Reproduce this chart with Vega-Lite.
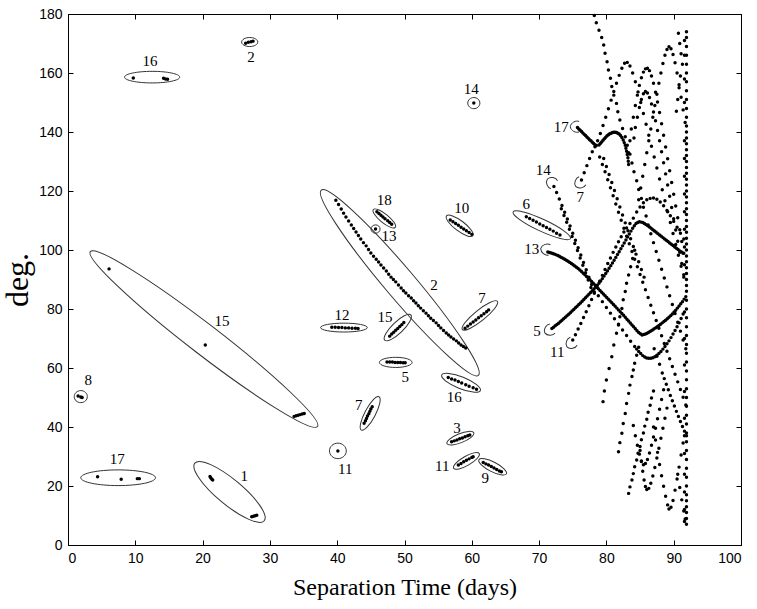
{
"$schema": "https://vega.github.io/schema/vega-lite/v6.json",
"width": 673, "height": 531,
"autosize": {"type": "none"},
"padding": {"left": 68, "top": 14, "right": 16, "bottom": 64},
"background": "white",
"config": {"view": {"stroke": "black", "strokeWidth": 1}, "axis": {"grid": false, "domainColor": "black", "tickColor": "black", "labelColor": "black", "titleColor": "black"}},
"datasets": {
"ell": [
{"x":12.5,"y":158.6,"len":8.2,"s":"e21","ang":0},
{"x":27.0,"y":170.5,"len":2.4,"s":"e56","ang":0},
{"x":60.3,"y":149.8,"len":1.8,"s":"e92","ang":0},
{"x":20.2,"y":69.8,"len":42.6,"s":"e10","ang":37.6},
{"x":1.9,"y":50.3,"len":1.95,"s":"e92","ang":0},
{"x":7.45,"y":22.8,"len":11.1,"s":"e21","ang":0},
{"x":24.0,"y":18.0,"len":13.4,"s":"e28","ang":39.7},
{"x":40.1,"y":31.9,"len":2.5,"s":"e92","ang":0},
{"x":44.9,"y":44.6,"len":5.6,"s":"e28","ang":-62},
{"x":41.0,"y":73.7,"len":6.94,"s":"e19","ang":0},
{"x":49.0,"y":73.7,"len":5.4,"s":"e31","ang":-44},
{"x":48.7,"y":61.9,"len":4.86,"s":"e31","ang":0},
{"x":49.3,"y":88.9,"len":36.1,"s":"e12","ang":49.7},
{"x":47.0,"y":110.7,"len":4.2,"s":"e31","ang":39},
{"x":45.7,"y":107.1,"len":1.35,"s":"e92","ang":0},
{"x":58.2,"y":108.2,"len":4.9,"s":"e31","ang":37},
{"x":61.2,"y":77.8,"len":6.7,"s":"e24","ang":-39},
{"x":58.4,"y":55.0,"len":6.2,"s":"e28","ang":22},
{"x":58.3,"y":36.2,"len":4.3,"s":"e31","ang":-22},
{"x":59.2,"y":28.5,"len":4.4,"s":"e31","ang":-30},
{"x":63.1,"y":26.5,"len":4.6,"s":"e31","ang":27},
{"x":70.4,"y":108.4,"len":9.4,"s":"e19","ang":25}
],
"arcs": [
{"x":75.5,"y":141.8,"a":0},
{"x":71.9,"y":122.8,"a":40},
{"x":76.1,"y":122.8,"a":-40},
{"x":71.1,"y":100.2,"a":10},
{"x":71.6,"y":72.9,"a":-30},
{"x":74.8,"y":68.4,"a":-40}
],
"lab": [
{"x":12.2,"y":164.1,"t":"16"},{"x":27.2,"y":165.4,"t":"2"},{"x":59.9,"y":154.6,"t":"14"},{"x":22.9,"y":75.9,"t":"15"},
{"x":3.0,"y":55.9,"t":"8"},{"x":7.3,"y":29.2,"t":"17"},{"x":26.2,"y":23.4,"t":"1"},{"x":41.2,"y":25.8,"t":"11"},
{"x":43.2,"y":47.5,"t":"7"},{"x":40.7,"y":78.0,"t":"12"},{"x":47.1,"y":77.3,"t":"15"},{"x":50.1,"y":56.9,"t":"5"},
{"x":54.4,"y":88.1,"t":"2"},{"x":47.0,"y":116.9,"t":"18"},{"x":47.7,"y":104.7,"t":"13"},{"x":58.5,"y":114.2,"t":"10"},
{"x":61.5,"y":83.7,"t":"7"},{"x":57.4,"y":50.2,"t":"16"},{"x":57.8,"y":39.7,"t":"3"},{"x":55.6,"y":26.8,"t":"11"},
{"x":62.0,"y":22.7,"t":"9"},{"x":68.1,"y":115.6,"t":"6"},{"x":73.3,"y":141.7,"t":"17"},{"x":70.6,"y":127.1,"t":"14"},
{"x":76.1,"y":118.0,"t":"7"},{"x":68.9,"y":100.3,"t":"13"},{"x":69.7,"y":72.5,"t":"5"},{"x":72.7,"y":65.4,"t":"11"}
],
"pts": [
{"x":9.7,"y":158.3},{"x":14.2,"y":158.2},{"x":14.5,"y":158.0},{"x":14.8,"y":157.9},
{"x":26.4,"y":170.1},{"x":26.8,"y":170.4},{"x":27.2,"y":170.6},{"x":27.5,"y":170.8},
{"x":60.3,"y":149.8},
{"x":6.1,"y":93.6},{"x":20.4,"y":67.8},{"x":33.6,"y":43.6},{"x":33.9,"y":43.8},{"x":34.2,"y":44.0},{"x":34.5,"y":44.2},{"x":34.8,"y":44.4},{"x":35.1,"y":44.6},
{"x":1.5,"y":50.5},{"x":1.9,"y":50.2},{"x":2.1,"y":50.0},
{"x":4.4,"y":23.1},{"x":7.9,"y":22.3},{"x":10.3,"y":22.5},{"x":10.6,"y":22.5},
{"x":21.1,"y":23.2},{"x":21.2,"y":22.8},{"x":21.35,"y":22.4},{"x":21.5,"y":22.0},{"x":27.3,"y":9.6},{"x":27.55,"y":9.75},{"x":27.8,"y":9.9},{"x":28.05,"y":10.05},
{"x":40.1,"y":31.9},
{"x":45.2,"y":46.9},{"x":45.0,"y":46.1},{"x":44.85,"y":45.3},{"x":44.7,"y":44.5},{"x":44.5,"y":43.7},{"x":44.35,"y":42.9},{"x":44.2,"y":42.1},{"x":44.0,"y":41.3},
{"x":39.2,"y":73.8},{"x":39.7,"y":73.8},{"x":40.2,"y":73.7},{"x":40.7,"y":73.7},{"x":41.2,"y":73.6},{"x":41.7,"y":73.6},{"x":42.2,"y":73.5},{"x":42.7,"y":73.5},{"x":43.1,"y":73.4},
{"x":49.9,"y":75.4},{"x":49.6,"y":74.7},{"x":49.3,"y":74.1},{"x":49.0,"y":73.4},{"x":48.7,"y":72.8},{"x":48.4,"y":72.1},{"x":48.1,"y":71.5},{"x":47.8,"y":70.8},
{"x":47.4,"y":62.0},{"x":47.8,"y":62.0},{"x":48.2,"y":62.0},{"x":48.6,"y":61.9},{"x":49.0,"y":61.9},{"x":49.4,"y":61.9},{"x":49.8,"y":61.8},{"x":50.1,"y":61.8},
{"x":39.8,"y":116.9},{"x":40.2,"y":115.4},{"x":40.6,"y":113.9},{"x":40.95,"y":112.5},{"x":41.3,"y":111.2},{"x":41.7,"y":109.8},{"x":42.1,"y":108.5},{"x":42.45,"y":107.3},{"x":42.8,"y":106.1},{"x":43.15,"y":104.9},{"x":43.5,"y":103.7},{"x":43.9,"y":102.5},{"x":44.3,"y":101.4},{"x":44.65,"y":100.2},{"x":45.0,"y":99.0},{"x":45.4,"y":97.9},{"x":45.8,"y":96.9},{"x":46.15,"y":95.9},{"x":46.5,"y":94.9},{"x":46.9,"y":93.9},{"x":47.3,"y":92.9},{"x":47.65,"y":91.8},{"x":48.0,"y":90.8},{"x":48.35,"y":90.0},{"x":48.7,"y":89.2},{"x":49.1,"y":88.1},{"x":49.5,"y":87.1},{"x":49.85,"y":86.2},{"x":50.2,"y":85.4},{"x":50.6,"y":84.5},{"x":51.0,"y":83.7},{"x":51.35,"y":82.8},{"x":51.7,"y":82.0},{"x":52.05,"y":81.1},{"x":52.4,"y":80.3},{"x":52.8,"y":79.4},{"x":53.2,"y":78.6},{"x":53.55,"y":77.7},{"x":53.9,"y":76.9},{"x":54.3,"y":76.1},{"x":54.7,"y":75.3},{"x":55.05,"y":74.4},{"x":55.4,"y":73.6},{"x":55.8,"y":72.7},{"x":56.2,"y":71.9},{"x":56.55,"y":71.2},{"x":56.9,"y":70.5},{"x":57.3,"y":69.8},{"x":57.7,"y":69.2},{"x":58.05,"y":68.5},{"x":58.4,"y":67.8},{"x":58.75,"y":67.3},{"x":59.1,"y":66.8},
{"x":45.9,"y":113.0},{"x":46.2,"y":112.4},{"x":46.5,"y":111.8},{"x":46.8,"y":111.2},{"x":47.1,"y":110.6},{"x":47.5,"y":109.9},{"x":47.8,"y":109.3},{"x":48.1,"y":108.7},
{"x":45.7,"y":107.1},
{"x":56.8,"y":110.2},{"x":57.2,"y":109.6},{"x":57.6,"y":109.0},{"x":58.0,"y":108.4},{"x":58.4,"y":107.7},{"x":58.8,"y":107.1},{"x":59.2,"y":106.5},{"x":59.6,"y":105.9},{"x":60.0,"y":105.3},
{"x":59.0,"y":73.5},{"x":59.4,"y":74.2},{"x":59.8,"y":74.9},{"x":60.2,"y":75.6},{"x":60.6,"y":76.3},{"x":61.0,"y":77.0},{"x":61.4,"y":77.7},{"x":61.8,"y":78.4},{"x":62.2,"y":79.1},{"x":62.5,"y":79.7},
{"x":56.5,"y":56.8},{"x":57.0,"y":56.3},{"x":57.5,"y":55.9},{"x":58.0,"y":55.4},{"x":58.5,"y":54.9},{"x":59.1,"y":54.3},{"x":59.6,"y":53.8},{"x":60.2,"y":53.3},{"x":60.7,"y":52.8},
{"x":57.0,"y":35.0},{"x":57.4,"y":35.3},{"x":57.8,"y":35.6},{"x":58.2,"y":36.0},{"x":58.6,"y":36.3},{"x":59.0,"y":36.7},{"x":59.4,"y":37.0},{"x":59.7,"y":37.3},
{"x":58.0,"y":27.1},{"x":58.4,"y":27.6},{"x":58.8,"y":28.2},{"x":59.2,"y":28.7},{"x":59.6,"y":29.2},{"x":60.0,"y":29.7},{"x":60.2,"y":29.9},
{"x":61.7,"y":28.0},{"x":62.1,"y":27.5},{"x":62.5,"y":27.1},{"x":62.9,"y":26.6},{"x":63.3,"y":26.1},{"x":63.7,"y":25.6},{"x":64.1,"y":25.1},{"x":64.4,"y":24.8},
{"x":68.1,"y":111.3},{"x":68.6,"y":110.7},{"x":69.1,"y":110.1},{"x":69.6,"y":109.5},{"x":70.1,"y":108.8},{"x":70.6,"y":108.2},{"x":71.1,"y":107.6},{"x":71.6,"y":107.0},{"x":72.1,"y":106.4},{"x":72.6,"y":105.7},{"x":73.1,"y":105.1},
{"x":71.3,"y":99.3},{"x":71.8,"y":99.0},{"x":72.3,"y":98.6},{"x":72.8,"y":98.1},{"x":73.3,"y":97.5},{"x":73.8,"y":96.9},{"x":74.3,"y":96.2},{"x":74.8,"y":95.4},{"x":75.3,"y":94.6},{"x":75.8,"y":93.7},{"x":76.3,"y":92.7},{"x":76.8,"y":91.6},{"x":77.3,"y":90.5},{"x":77.8,"y":89.3},{"x":78.3,"y":88.1},{"x":78.8,"y":86.9},{"x":79.3,"y":85.7},{"x":79.8,"y":84.5},{"x":80.3,"y":83.3},{"x":80.8,"y":82.1},{"x":81.3,"y":80.9},{"x":81.8,"y":79.7},{"x":82.3,"y":78.5},{"x":82.8,"y":77.2},{"x":83.3,"y":75.9},{"x":83.8,"y":74.6},{"x":84.3,"y":73.3},{"x":84.8,"y":72.0},{"x":85.3,"y":71.2},{"x":85.8,"y":71.5},{"x":86.3,"y":72.1},{"x":86.8,"y":72.8},{"x":87.3,"y":73.6},{"x":87.8,"y":74.4},{"x":88.3,"y":75.3},{"x":88.8,"y":76.2},{"x":89.3,"y":77.2},{"x":89.8,"y":78.3},{"x":90.3,"y":79.6},{"x":90.8,"y":81.0},{"x":91.3,"y":82.5},{"x":91.8,"y":84.2},
{"x":71.55,"y":99.15},{"x":72.05,"y":98.8},{"x":72.55,"y":98.35},{"x":73.05,"y":97.8},{"x":73.55,"y":97.2},{"x":74.05,"y":96.55},{"x":74.55,"y":95.8},{"x":75.05,"y":95.0},{"x":75.55,"y":94.15},{"x":76.05,"y":93.2},{"x":76.55,"y":92.15},{"x":77.05,"y":91.05},{"x":77.55,"y":89.9},{"x":78.05,"y":88.7},{"x":78.55,"y":87.5},{"x":79.05,"y":86.3},{"x":79.55,"y":85.1},{"x":80.05,"y":83.9},{"x":80.55,"y":82.7},{"x":81.05,"y":81.5},{"x":81.55,"y":80.3},{"x":82.05,"y":79.1},{"x":82.55,"y":77.85},{"x":83.05,"y":76.55},{"x":83.55,"y":75.25},{"x":84.05,"y":73.95},{"x":84.55,"y":72.65},{"x":85.05,"y":71.6},{"x":85.55,"y":71.35},{"x":86.05,"y":71.8},{"x":86.55,"y":72.45},{"x":87.05,"y":73.2},{"x":87.55,"y":74.0},{"x":88.05,"y":74.85},{"x":88.55,"y":75.75},{"x":89.05,"y":76.7},{"x":89.55,"y":77.75},{"x":90.05,"y":78.95},{"x":90.55,"y":80.3},{"x":91.05,"y":81.75},{"x":91.55,"y":83.35},
{"x":71.9,"y":73.4},{"x":72.4,"y":74.3},{"x":72.9,"y":75.2},{"x":73.4,"y":76.2},{"x":73.9,"y":77.2},{"x":74.4,"y":78.2},{"x":74.9,"y":79.3},{"x":75.4,"y":80.4},{"x":75.9,"y":81.5},{"x":76.4,"y":82.6},{"x":76.9,"y":83.8},{"x":77.4,"y":85.0},{"x":77.9,"y":86.2},{"x":78.4,"y":87.4},{"x":78.9,"y":88.7},{"x":79.4,"y":90.3},{"x":79.9,"y":92.0},{"x":80.4,"y":93.8},{"x":80.9,"y":95.6},{"x":81.4,"y":97.5},{"x":81.9,"y":99.4},{"x":82.4,"y":101.4},{"x":82.9,"y":103.4},{"x":83.4,"y":105.4},{"x":83.9,"y":107.4},{"x":84.4,"y":109.0},{"x":84.9,"y":109.6},{"x":85.4,"y":109.3},{"x":85.9,"y":108.6},{"x":86.4,"y":107.8},{"x":86.9,"y":106.9},{"x":87.4,"y":106.0},{"x":87.9,"y":105.1},{"x":88.4,"y":104.2},{"x":88.9,"y":103.3},{"x":89.4,"y":102.4},{"x":89.9,"y":101.5},{"x":90.4,"y":100.6},{"x":90.9,"y":99.7},{"x":91.4,"y":98.9},
{"x":72.15,"y":73.85},{"x":72.65,"y":74.75},{"x":73.15,"y":75.7},{"x":73.65,"y":76.7},{"x":74.15,"y":77.7},{"x":74.65,"y":78.75},{"x":75.15,"y":79.85},{"x":75.65,"y":80.95},{"x":76.15,"y":82.05},{"x":76.65,"y":83.2},{"x":77.15,"y":84.4},{"x":77.65,"y":85.6},{"x":78.15,"y":86.8},{"x":78.65,"y":88.05},{"x":79.15,"y":89.5},{"x":79.65,"y":91.15},{"x":80.15,"y":92.9},{"x":80.65,"y":94.7},{"x":81.15,"y":96.55},{"x":81.65,"y":98.45},{"x":82.15,"y":100.4},{"x":82.65,"y":102.4},{"x":83.15,"y":104.4},{"x":83.65,"y":106.4},{"x":84.15,"y":108.2},{"x":84.65,"y":109.3},{"x":85.15,"y":109.45},{"x":85.65,"y":108.95},{"x":86.15,"y":108.2},{"x":86.65,"y":107.35},{"x":87.15,"y":106.45},{"x":87.65,"y":105.55},{"x":88.15,"y":104.65},{"x":88.65,"y":103.75},{"x":89.15,"y":102.85},{"x":89.65,"y":101.95},{"x":90.15,"y":101.05},{"x":90.65,"y":100.15},{"x":91.15,"y":99.3},
{"x":72.2,"y":121.5},{"x":72.6,"y":119.5},{"x":73.0,"y":117.3},{"x":73.4,"y":115.1},{"x":73.8,"y":112.8},{"x":74.2,"y":110.5},{"x":74.6,"y":108.1},{"x":75.0,"y":105.7},{"x":75.4,"y":103.3},{"x":75.8,"y":100.8},{"x":76.2,"y":98.3},{"x":76.6,"y":95.8},{"x":77.0,"y":93.3},{"x":77.4,"y":90.8},{"x":77.8,"y":88.3},{"x":78.2,"y":85.8},
{"x":73.3,"y":114.0},{"x":73.7,"y":111.7},{"x":74.1,"y":109.4},{"x":74.5,"y":107.0},{"x":74.9,"y":104.6},{"x":75.3,"y":102.2},{"x":75.7,"y":99.8},{"x":76.1,"y":97.3},{"x":76.5,"y":94.8},{"x":76.9,"y":92.3},{"x":77.3,"y":89.8},{"x":77.7,"y":87.3},
{"x":78.8,"y":84.5},{"x":79.4,"y":82.5},{"x":80.0,"y":80.5},{"x":80.6,"y":78.6},{"x":81.2,"y":76.7},{"x":81.8,"y":74.8},{"x":82.4,"y":72.9},{"x":83.0,"y":71.0},{"x":83.6,"y":69.1},{"x":84.2,"y":67.3},{"x":84.8,"y":65.6},{"x":85.4,"y":64.2},{"x":86.0,"y":63.4},{"x":86.6,"y":63.3},{"x":87.2,"y":63.8},{"x":87.8,"y":64.9},{"x":88.4,"y":66.4},{"x":89.0,"y":68.2},{"x":89.6,"y":70.3},{"x":90.2,"y":72.7},{"x":90.8,"y":75.3},{"x":91.4,"y":78.3},
{"x":84.5,"y":66.4},{"x":85.1,"y":64.9},{"x":85.7,"y":63.7},{"x":86.3,"y":63.3},{"x":86.9,"y":63.5},{"x":87.5,"y":64.3},{"x":88.1,"y":65.6},{"x":88.7,"y":67.3},{"x":89.3,"y":69.2},{"x":89.9,"y":71.5},{"x":90.5,"y":74.0},{"x":91.1,"y":76.8},
{"x":75.0,"y":69.5},{"x":75.4,"y":71.3},{"x":75.8,"y":73.2},{"x":76.2,"y":75.1},{"x":76.6,"y":77.1},{"x":77.0,"y":79.1},{"x":77.4,"y":81.1},{"x":77.8,"y":83.2},{"x":78.2,"y":85.3},{"x":78.6,"y":87.4},{"x":79.0,"y":89.4},{"x":79.4,"y":91.4},{"x":79.8,"y":93.4},{"x":80.2,"y":95.4},{"x":80.6,"y":97.3},{"x":81.0,"y":99.2},{"x":81.4,"y":101.0},{"x":81.8,"y":102.8},{"x":82.2,"y":104.5},{"x":82.6,"y":106.1},{"x":83.0,"y":107.5},{"x":83.5,"y":109.0},{"x":84.0,"y":110.8},{"x":84.5,"y":112.9},{"x":85.0,"y":114.6},{"x":85.5,"y":116.0},{"x":86.0,"y":117.0},{"x":86.5,"y":117.5},{"x":87.0,"y":117.6},{"x":87.5,"y":117.2},{"x":88.0,"y":116.3},{"x":88.5,"y":115.0},{"x":89.0,"y":113.4},{"x":89.5,"y":111.6},{"x":90.0,"y":109.7},{"x":90.5,"y":107.7},{"x":91.0,"y":105.7},{"x":91.5,"y":103.7},
{"x":75.7,"y":141.5},{"x":75.9,"y":141.0},{"x":76.1,"y":140.6},{"x":76.3,"y":140.2},{"x":76.5,"y":139.7},{"x":76.7,"y":139.2},{"x":76.9,"y":138.8},{"x":77.1,"y":138.3},{"x":77.3,"y":137.9},{"x":77.5,"y":137.4},{"x":77.7,"y":137.0},{"x":77.9,"y":136.5},{"x":78.1,"y":136.1},{"x":78.3,"y":135.7},{"x":78.5,"y":135.4},{"x":78.9,"y":135.6},{"x":79.1,"y":136.1},{"x":79.3,"y":136.6},{"x":79.5,"y":137.2},{"x":79.7,"y":137.7},{"x":79.9,"y":138.2},{"x":80.1,"y":138.7},{"x":80.3,"y":139.1},{"x":80.5,"y":139.4},{"x":80.7,"y":139.6},{"x":80.9,"y":139.8},{"x":81.1,"y":139.9},{"x":81.3,"y":139.9},{"x":81.5,"y":139.8},{"x":81.7,"y":139.6},{"x":81.9,"y":139.3},{"x":82.1,"y":138.8},{"x":82.3,"y":138.1},{"x":82.5,"y":137.3},{"x":82.65,"y":136.4},{"x":82.8,"y":135.5},{"x":82.9,"y":134.5},{"x":83.0,"y":133.5},{"x":83.1,"y":132.4},{"x":83.2,"y":131.3},{"x":83.25,"y":130.1},{"x":83.3,"y":129.0},
{"x":76.3,"y":123.7},{"x":76.7,"y":126.2},{"x":77.1,"y":128.6},{"x":77.5,"y":131.0},{"x":77.9,"y":133.3},{"x":78.3,"y":135.0},{"x":78.7,"y":137.0},{"x":79.1,"y":139.5},{"x":79.5,"y":142.2},{"x":79.9,"y":145.0},{"x":80.3,"y":147.9},{"x":80.7,"y":150.8},{"x":81.1,"y":153.7},{"x":81.5,"y":156.5},{"x":81.9,"y":159.2},{"x":82.3,"y":161.6},{"x":82.7,"y":163.3},{"x":83.1,"y":163.6},{"x":83.5,"y":162.4},{"x":83.9,"y":160.0},{"x":84.3,"y":157.0},{"x":84.7,"y":153.6},{"x":85.1,"y":150.0},{"x":85.5,"y":146.3},{"x":85.9,"y":142.6},{"x":86.3,"y":138.9},{"x":86.7,"y":135.2},{"x":87.1,"y":131.5},{"x":87.5,"y":127.8},{"x":87.9,"y":124.1},{"x":88.3,"y":120.4},{"x":88.7,"y":116.7},{"x":89.1,"y":113.0},{"x":89.5,"y":109.3},{"x":89.9,"y":105.6},{"x":90.3,"y":101.9},{"x":90.7,"y":98.2},{"x":91.1,"y":94.5},{"x":91.5,"y":90.8},
{"x":78.2,"y":179.5},{"x":78.5,"y":177.0},{"x":78.9,"y":174.5},{"x":79.3,"y":172.0},{"x":79.6,"y":169.5},{"x":79.8,"y":166.7},{"x":80.1,"y":163.8},{"x":80.3,"y":161.0},{"x":80.6,"y":158.2},{"x":80.8,"y":155.4},{"x":81.1,"y":152.5},{"x":81.5,"y":149.7},{"x":81.7,"y":146.9},{"x":82.0,"y":144.1},{"x":82.4,"y":141.2},{"x":82.8,"y":138.4},{"x":83.1,"y":135.5},{"x":83.5,"y":132.5},{"x":83.8,"y":129.5},{"x":84.1,"y":126.5},{"x":84.5,"y":123.5},{"x":84.8,"y":120.5},{"x":85.2,"y":117.5},{"x":85.5,"y":114.5},{"x":85.9,"y":111.5},{"x":86.2,"y":108.5},{"x":86.6,"y":105.5},{"x":87.0,"y":102.5},{"x":87.4,"y":99.5},{"x":87.8,"y":96.5},{"x":88.2,"y":93.5},{"x":88.6,"y":90.5},{"x":89.0,"y":87.5},{"x":89.4,"y":84.5},{"x":89.8,"y":81.5},{"x":90.2,"y":78.5},{"x":90.6,"y":75.5},{"x":91.0,"y":72.5},{"x":91.4,"y":69.5},{"x":91.8,"y":66.5},
{"x":79.0,"y":131.5},{"x":79.4,"y":129.0},{"x":79.8,"y":126.5},{"x":80.2,"y":123.8},{"x":80.6,"y":121.1},{"x":81.0,"y":118.4},{"x":81.4,"y":115.6},{"x":81.8,"y":112.8},{"x":82.2,"y":110.1},{"x":82.6,"y":107.4},{"x":83.0,"y":104.7},{"x":83.4,"y":102.1},{"x":83.8,"y":99.5},{"x":84.2,"y":96.9},{"x":84.6,"y":94.3},{"x":85.0,"y":91.7},{"x":85.4,"y":89.1},{"x":85.8,"y":86.5},{"x":86.2,"y":83.9},{"x":86.6,"y":81.3},{"x":87.0,"y":78.7},{"x":87.4,"y":76.1},{"x":87.8,"y":73.5},{"x":88.2,"y":70.9},{"x":88.6,"y":68.3},{"x":89.0,"y":65.7},{"x":89.4,"y":63.1},{"x":89.8,"y":60.5},{"x":90.2,"y":57.9},{"x":90.6,"y":55.3},{"x":91.0,"y":52.7},{"x":91.4,"y":50.1},{"x":91.8,"y":47.5},
{"x":79.6,"y":131.0},{"x":80.0,"y":128.3},{"x":80.4,"y":125.6},{"x":80.8,"y":122.9},{"x":81.2,"y":120.2},{"x":81.6,"y":117.4},{"x":82.0,"y":114.6},{"x":82.4,"y":111.9},{"x":82.8,"y":109.2},{"x":83.2,"y":106.5},{"x":83.6,"y":103.8},{"x":84.0,"y":101.2},{"x":84.4,"y":98.6},{"x":84.8,"y":96.0},{"x":85.2,"y":93.4},{"x":85.6,"y":90.8},
{"x":79.5,"y":48.6},{"x":79.7,"y":52.2},{"x":80.0,"y":55.9},{"x":80.4,"y":59.8},{"x":80.8,"y":63.8},{"x":81.1,"y":67.8},{"x":81.5,"y":71.8},{"x":81.8,"y":74.6},{"x":82.0,"y":77.4},{"x":82.3,"y":80.2},{"x":82.5,"y":83.1},{"x":82.8,"y":85.9},{"x":83.0,"y":88.7},{"x":83.3,"y":91.5},{"x":83.6,"y":94.3},{"x":83.9,"y":97.1},{"x":84.2,"y":99.9},
{"x":81.8,"y":31.6},{"x":82.0,"y":34.7},{"x":82.3,"y":37.9},{"x":82.5,"y":41.2},{"x":82.8,"y":44.6},{"x":83.0,"y":48.0},{"x":83.3,"y":51.4},{"x":83.5,"y":54.2},{"x":83.8,"y":57.1},{"x":84.0,"y":59.3},{"x":84.2,"y":61.6},{"x":84.5,"y":64.3},{"x":84.8,"y":67.0},
{"x":83.3,"y":17.5},{"x":83.5,"y":19.7},{"x":83.8,"y":22.0},{"x":84.0,"y":24.2},{"x":84.2,"y":26.5},{"x":84.5,"y":28.8},{"x":84.7,"y":31.1},{"x":85.0,"y":33.4},{"x":85.2,"y":35.7},{"x":85.5,"y":38.0},{"x":85.7,"y":40.3},{"x":86.0,"y":42.6},{"x":86.2,"y":45.0},{"x":86.5,"y":47.4},{"x":86.7,"y":49.8},{"x":87.0,"y":52.2},
{"x":84.0,"y":40.5},{"x":84.3,"y":37.0},{"x":84.6,"y":33.8},{"x":84.9,"y":30.8},{"x":85.2,"y":28.5},{"x":85.5,"y":27.2},{"x":85.8,"y":27.6},{"x":86.1,"y":29.0},{"x":86.4,"y":31.2},{"x":86.7,"y":33.8},{"x":87.0,"y":36.6},{"x":87.3,"y":39.6},{"x":87.6,"y":42.8},{"x":87.9,"y":46.0},{"x":88.2,"y":49.3},{"x":88.5,"y":52.6},
{"x":85.0,"y":32.0},{"x":85.2,"y":28.3},{"x":85.4,"y":25.0},{"x":85.6,"y":22.0},{"x":85.8,"y":19.8},{"x":86.0,"y":18.8},{"x":86.3,"y":19.2},{"x":86.6,"y":20.9},{"x":86.9,"y":23.4},{"x":87.2,"y":26.3},{"x":87.5,"y":29.5},{"x":87.8,"y":32.8},{"x":88.1,"y":36.2},{"x":88.4,"y":39.6},{"x":88.7,"y":43.0},{"x":89.0,"y":46.4},
{"x":87.0,"y":40.0},{"x":87.3,"y":35.6},{"x":87.6,"y":31.4},{"x":87.9,"y":27.3},{"x":88.2,"y":23.5},{"x":88.5,"y":19.9},{"x":88.8,"y":16.5},{"x":89.1,"y":13.6},{"x":89.3,"y":12.2},{"x":89.6,"y":12.8},{"x":89.9,"y":15.1},{"x":90.2,"y":18.6},{"x":90.5,"y":22.4},{"x":90.8,"y":26.4},{"x":91.1,"y":30.5},{"x":91.4,"y":34.6},
{"x":90.6,"y":24.0},{"x":90.9,"y":19.5},{"x":91.2,"y":15.3},{"x":91.5,"y":11.5},{"x":91.7,"y":8.8},
{"x":87.1,"y":66.5},{"x":87.5,"y":64.0},{"x":87.9,"y":61.3},{"x":88.3,"y":58.3},{"x":88.6,"y":56.4},{"x":88.9,"y":54.5},{"x":89.2,"y":52.6},{"x":89.5,"y":50.7},{"x":89.8,"y":48.9},{"x":90.1,"y":47.1},{"x":90.4,"y":45.3},{"x":90.7,"y":43.6},{"x":91.0,"y":41.9},{"x":91.3,"y":40.2},{"x":91.6,"y":38.6},{"x":91.9,"y":37.0},
{"x":83.3,"y":133.0},{"x":83.5,"y":137.0},{"x":83.7,"y":141.0},{"x":84.0,"y":145.0},{"x":84.3,"y":149.0},{"x":84.6,"y":152.5},{"x":84.9,"y":155.8},{"x":85.2,"y":158.4},{"x":85.5,"y":160.3},{"x":85.8,"y":161.4},{"x":86.1,"y":161.6},{"x":86.4,"y":160.8},{"x":86.7,"y":159.0},{"x":87.0,"y":156.5},{"x":87.3,"y":153.5},{"x":87.6,"y":150.2},{"x":87.9,"y":146.6},{"x":88.2,"y":142.8},{"x":88.5,"y":138.9},{"x":88.8,"y":134.9},{"x":89.1,"y":130.9},{"x":89.4,"y":126.9},{"x":89.7,"y":122.9},{"x":90.0,"y":118.9},{"x":90.3,"y":114.9},{"x":90.6,"y":110.9},{"x":90.9,"y":106.9},{"x":91.2,"y":102.9},{"x":91.5,"y":98.9},
{"x":84.1,"y":138.0},{"x":84.3,"y":141.5},{"x":84.6,"y":145.0},{"x":84.9,"y":148.3},{"x":85.2,"y":151.0},{"x":85.5,"y":153.0},{"x":85.8,"y":153.7},{"x":86.1,"y":153.2},{"x":86.4,"y":151.7},{"x":86.7,"y":149.5},{"x":87.0,"y":146.8},{"x":87.3,"y":143.8},{"x":87.6,"y":140.5},{"x":87.9,"y":137.0},{"x":88.2,"y":133.3},{"x":88.5,"y":129.6},{"x":88.8,"y":125.8},{"x":89.1,"y":122.0},{"x":89.4,"y":118.2},{"x":89.7,"y":114.4},{"x":90.0,"y":110.6},{"x":90.3,"y":106.8},{"x":90.6,"y":103.0},{"x":90.9,"y":99.2},{"x":91.2,"y":95.4},{"x":91.5,"y":91.6},
{"x":84.8,"y":117.0},{"x":85.1,"y":121.0},{"x":85.4,"y":125.0},{"x":85.7,"y":129.0},{"x":86.0,"y":133.0},{"x":86.3,"y":137.0},{"x":86.6,"y":141.0},{"x":86.9,"y":145.0},{"x":87.2,"y":149.0},{"x":87.5,"y":152.8},{"x":87.8,"y":156.5},{"x":88.1,"y":160.0},{"x":88.4,"y":163.2},{"x":88.7,"y":166.0},{"x":89.0,"y":168.0},{"x":89.3,"y":168.9},{"x":89.6,"y":168.2},{"x":89.9,"y":166.3},{"x":90.2,"y":163.5},{"x":90.5,"y":160.0},{"x":90.8,"y":156.0},{"x":91.1,"y":151.8},{"x":91.4,"y":147.5},{"x":91.7,"y":143.2},
{"x":90.7,"y":173.5},{"x":90.9,"y":170.0},{"x":91.1,"y":166.5},{"x":91.3,"y":163.0},{"x":91.0,"y":159.0},{"x":90.8,"y":155.0},{"x":90.6,"y":151.0},{"x":90.4,"y":147.0},
{"x":91.9,"y":7},{"x":91.9,"y":9},{"x":91.9,"y":11},{"x":91.9,"y":13},{"x":91.9,"y":15},{"x":91.9,"y":17},{"x":91.9,"y":20},{"x":91.9,"y":23},{"x":91.9,"y":26},{"x":91.9,"y":29},{"x":91.9,"y":32},{"x":91.9,"y":35},{"x":91.9,"y":38},{"x":91.9,"y":41},{"x":91.9,"y":44},{"x":91.9,"y":47},{"x":91.9,"y":50},{"x":91.9,"y":53},{"x":91.9,"y":56},{"x":91.9,"y":59},{"x":91.9,"y":62},{"x":91.9,"y":65},{"x":91.9,"y":68},{"x":91.9,"y":71},{"x":91.9,"y":74},{"x":91.9,"y":77},{"x":91.9,"y":80},{"x":91.9,"y":83},{"x":91.9,"y":86},{"x":91.9,"y":88},{"x":91.9,"y":90},{"x":91.9,"y":92},{"x":91.9,"y":94},{"x":91.9,"y":96},{"x":91.9,"y":98},{"x":91.9,"y":100},{"x":91.9,"y":102},{"x":91.9,"y":104},{"x":91.9,"y":106},{"x":91.9,"y":108},{"x":91.9,"y":110},{"x":91.9,"y":112},{"x":91.9,"y":114},{"x":91.9,"y":116},{"x":91.9,"y":118},{"x":91.9,"y":120},{"x":91.9,"y":122},{"x":91.9,"y":124},{"x":91.9,"y":126},{"x":91.9,"y":128},{"x":91.9,"y":130},{"x":91.9,"y":132},{"x":91.9,"y":134},{"x":91.9,"y":136},{"x":91.9,"y":138},{"x":91.9,"y":140},{"x":91.9,"y":142},{"x":91.9,"y":145},{"x":91.9,"y":148},{"x":91.9,"y":151},{"x":91.9,"y":154},{"x":91.9,"y":157},{"x":91.9,"y":160},{"x":91.9,"y":163},{"x":91.9,"y":166},{"x":91.9,"y":169},{"x":91.9,"y":172},{"x":91.9,"y":174},
{"x":91.6,"y":8},{"x":91.6,"y":12},{"x":91.6,"y":18},{"x":91.6,"y":24},{"x":91.6,"y":31},{"x":91.6,"y":37},{"x":91.6,"y":43},{"x":91.6,"y":52},{"x":91.6,"y":61},{"x":91.6,"y":70},{"x":91.6,"y":79},{"x":91.6,"y":95},{"x":91.6,"y":101},{"x":91.6,"y":107},{"x":91.6,"y":113},{"x":91.6,"y":119},{"x":91.6,"y":125},{"x":91.6,"y":131},{"x":91.6,"y":137},{"x":91.6,"y":150},{"x":91.6,"y":158},{"x":91.6,"y":166},{"x":91.6,"y":171}
]
},
"layer": [
{"data": {"name": "ell"},
 "mark": {"type": "point", "filled": false, "stroke": "#333333", "strokeWidth": 1, "opacity": 1},
 "encoding": {
  "x": {"field": "x", "type": "quantitative", "scale": {"domain": [0, 100], "nice": false}, "axis": null},
  "y": {"field": "y", "type": "quantitative", "scale": {"domain": [0, 180], "nice": false}, "axis": null},
  "size": {"field": "len", "type": "quantitative", "scale": {"type": "pow", "exponent": 2, "domain": [0, 100], "range": [0, 452929], "zero": true}, "legend": null},
  "shape": {"field": "s", "type": "nominal", "legend": null, "scale": {"domain": ["e10","e12","e19","e21","e24","e28","e31","e56","e92"], "range": [
   "M -1 0 C -1 -0.058 -0.552 -0.105 0 -0.105 C 0.552 -0.105 1 -0.058 1 0 C 1 0.058 0.552 0.105 0 0.105 C -0.552 0.105 -1 0.058 -1 0 Z",
   "M -1 0 C -1 -0.068 -0.552 -0.124 0 -0.124 C 0.552 -0.124 1 -0.068 1 0 C 1 0.068 0.552 0.124 0 0.124 C -0.552 0.124 -1 0.068 -1 0 Z",
   "M -1 0 C -1 -0.105 -0.552 -0.19 0 -0.19 C 0.552 -0.19 1 -0.105 1 0 C 1 0.105 0.552 0.19 0 0.19 C -0.552 0.19 -1 0.105 -1 0 Z",
   "M -1 0 C -1 -0.116 -0.552 -0.21 0 -0.21 C 0.552 -0.21 1 -0.116 1 0 C 1 0.116 0.552 0.21 0 0.21 C -0.552 0.21 -1 0.116 -1 0 Z",
   "M -1 0 C -1 -0.133 -0.552 -0.24 0 -0.24 C 0.552 -0.24 1 -0.133 1 0 C 1 0.133 0.552 0.24 0 0.24 C -0.552 0.24 -1 0.133 -1 0 Z",
   "M -1 0 C -1 -0.155 -0.552 -0.28 0 -0.28 C 0.552 -0.28 1 -0.155 1 0 C 1 0.155 0.552 0.28 0 0.28 C -0.552 0.28 -1 0.155 -1 0 Z",
   "M -1 0 C -1 -0.171 -0.552 -0.31 0 -0.31 C 0.552 -0.31 1 -0.171 1 0 C 1 0.171 0.552 0.31 0 0.31 C -0.552 0.31 -1 0.171 -1 0 Z",
   "M -1 0 C -1 -0.309 -0.552 -0.56 0 -0.56 C 0.552 -0.56 1 -0.309 1 0 C 1 0.309 0.552 0.56 0 0.56 C -0.552 0.56 -1 0.309 -1 0 Z",
   "M -1 0 C -1 -0.508 -0.552 -0.92 0 -0.92 C 0.552 -0.92 1 -0.508 1 0 C 1 0.508 0.552 0.92 0 0.92 C -0.552 0.92 -1 0.508 -1 0 Z"
  ]}},
  "angle": {"field": "ang", "type": "quantitative", "scale": {"domain": [-360, 360], "range": [-360, 360]}}
 }},
{"data": {"name": "arcs"},
 "mark": {"type": "point", "filled": false, "stroke": "#333333", "strokeWidth": 1, "size": 144, "opacity": 1,
   "shape": "M 0.5 -0.87 C 0 -1.1 -0.9 -0.7 -0.97 0 C -0.9 0.7 0 1.1 0.5 0.87"},
 "encoding": {
  "x": {"field": "x", "type": "quantitative", "scale": {"domain": [0, 100], "nice": false}, "axis": null},
  "y": {"field": "y", "type": "quantitative", "scale": {"domain": [0, 180], "nice": false}, "axis": null},
  "angle": {"field": "a", "type": "quantitative", "scale": {"domain": [-360, 360], "range": [-360, 360]}}
 }},
{"data": {"name": "pts"},
 "mark": {"type": "point", "filled": true, "shape": "circle", "color": "black", "size": 12, "opacity": 1},
 "encoding": {
  "x": {"field": "x", "type": "quantitative", "scale": {"domain": [0, 100], "nice": false},
   "axis": {"orient": "bottom", "title": "Separation Time (days)", "values": [0,10,20,30,40,50,60,70,80,90,100], "tickSize": -5, "labelPadding": 11, "labelFont": "Liberation Sans", "labelFontSize": 14, "titleFont": "Liberation Serif", "titleFontSize": 24, "titleFontWeight": "normal", "titlePadding": 10}},
  "y": {"field": "y", "type": "quantitative", "scale": {"domain": [0, 180], "nice": false},
   "axis": {"orient": "left", "title": "deg.", "values": [0,20,40,60,80,100,120,140,160,180], "tickSize": -5, "labelPadding": 11, "labelFont": "Liberation Sans", "labelFontSize": 14, "titleFont": "Liberation Serif", "titleFontSize": 32, "titleFontWeight": "normal", "titlePadding": 4}}
 }},
{"data": {"name": "lab"},
 "mark": {"type": "text", "font": "Liberation Serif", "fontSize": 15, "color": "black", "align": "center", "baseline": "middle"},
 "encoding": {
  "x": {"field": "x", "type": "quantitative", "scale": {"domain": [0, 100], "nice": false}, "axis": null},
  "y": {"field": "y", "type": "quantitative", "scale": {"domain": [0, 180], "nice": false}, "axis": null},
  "text": {"field": "t", "type": "nominal"}
 }},
{"data": {"name": "arcs"},
 "mark": {"type": "point", "opacity": 0},
 "encoding": {
  "x": {"field": "x", "type": "quantitative", "scale": {"domain": [0, 100], "nice": false},
   "axis": {"orient": "top", "title": null, "labels": false, "values": [0,10,20,30,40,50,60,70,80,90,100], "tickSize": -5}},
  "y": {"field": "y", "type": "quantitative", "scale": {"domain": [0, 180], "nice": false},
   "axis": {"orient": "right", "title": null, "labels": false, "values": [0,20,40,60,80,100,120,140,160,180], "tickSize": -5}}
 }}
],
"resolve": {"axis": {"x": "independent", "y": "independent"}}
}
